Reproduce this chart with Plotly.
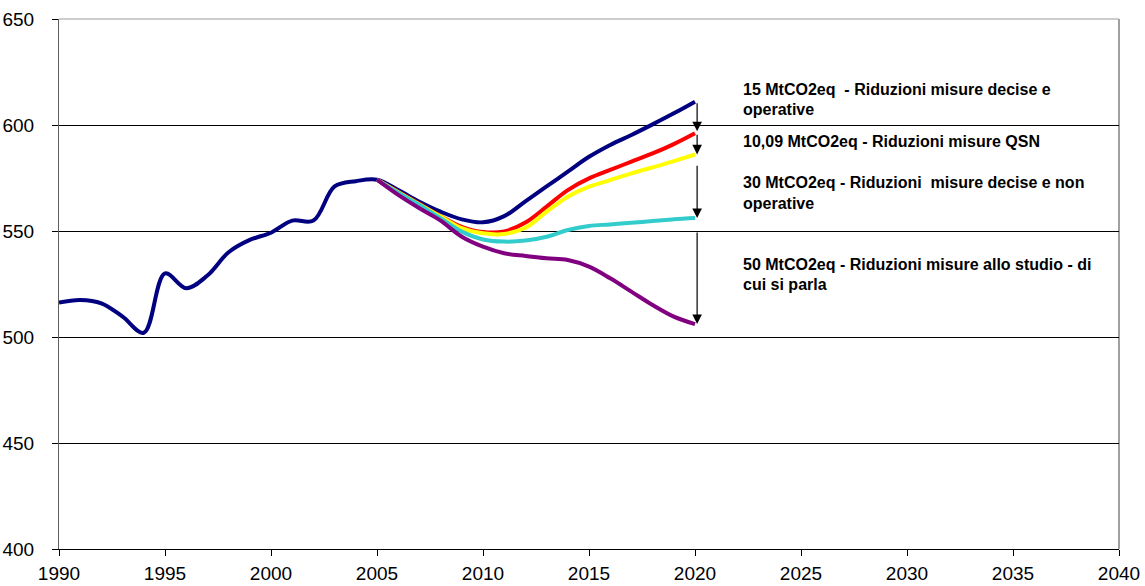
import plotly.graph_objects as go

# Historical emissions and reference projection (MtCO2eq)
years_main = list(range(1990, 2021))
reference = [516.3, 517.5, 515.9, 509.6, 502.0, 530.0, 523.0, 529.0, 540.0, 545.8,
             549.2, 554.9, 554.9, 571.0, 573.5, 574.2, 569.3, 563.8, 559.1, 555.5,
             554.1, 557.0, 564.0, 571.0, 578.0, 585.0, 590.6, 595.3, 600.3, 605.5,
             611.0]

# Reduction scenarios 2005-2020
years_scen = list(range(2005, 2021))
scen_red = [574.2, 568.5, 562.8, 557.0, 552.0, 549.5, 549.8, 554.0, 561.5, 569.3,
            574.8, 578.8, 582.7, 586.6, 591.0, 596.1]
scen_yellow = [574.2, 568.3, 562.5, 556.8, 551.3, 548.9, 548.6, 551.5, 559.1, 566.2,
               570.9, 574.0, 577.2, 580.0, 583.0, 586.1]
scen_cyan = [574.2, 568.0, 562.3, 556.0, 549.7, 546.0, 545.0, 545.5, 547.3, 550.5,
             552.4, 553.1, 553.9, 554.7, 555.5, 556.1]
scen_purple = [574.2, 567.0, 560.7, 554.9, 547.3, 542.6, 539.5, 538.2, 537.1, 536.3,
               533.2, 527.7, 521.4, 515.1, 509.6, 506.1]

# Reduction arrows at 2020: start / end values
arrow_year = 2020.1
arrow_start = [611.0, 596.1, 581.5, 550.0]
arrow_end = [597.0, 586.1, 556.1, 506.1]

# Side labels: (text, y value)
label_x = 2022.17
label_lines = [
    ("15 MtCO2eq \u00a0- Riduzioni misure decise e", 616.9),
    ("operative", 607.2),
    ("10,09 MtCO2eq - Riduzioni misure QSN", 592.1),
    ("30 MtCO2eq - Riduzioni \u00a0misure decise e non", 573.1),
    ("operative", 563.2),
    ("50 MtCO2eq - Riduzioni misure allo studio - di", 534.2),
    ("cui si parla", 524.8),
]

x_ticks = list(range(1990, 2041, 5))
y_ticks = list(range(400, 651, 50))

fig = go.Figure()

line_w = 4
series = [
    (years_main, reference, "#000080"),
    (years_scen, scen_red, "#FF0000"),
    (years_scen, scen_yellow, "#FFFF00"),
    (years_scen, scen_cyan, "#33CCCC"),
    (years_scen, scen_purple, "#800080"),
]
for xs, ys, col in series:
    fig.add_trace(go.Scatter(
        x=xs, y=ys, mode="lines",
        line=dict(color=col, width=line_w, shape="spline", smoothing=1.0),
        hoverinfo="skip", showlegend=False,
    ))

for y0, y1 in zip(arrow_start, arrow_end):
    fig.add_annotation(
        x=arrow_year, y=y1, ax=arrow_year, ay=y0,
        xref="x", yref="y", axref="x", ayref="y",
        showarrow=True, arrowhead=2, arrowsize=1.6, arrowwidth=1.2,
        arrowcolor="#000000", standoff=0, text="",
    )

for txt, yv in label_lines:
    fig.add_annotation(
        x=label_x, y=yv, xref="x", yref="y", text=txt, showarrow=False,
        xanchor="left", yanchor="middle",
        font=dict(family="Liberation Sans, Arial, sans-serif", size=16,
                  color="#000000", weight="bold"),
    )

# Grey frame on top and right of the plot area
fig.add_shape(type="line", xref="paper", yref="paper", x0=0, x1=1, y0=1, y1=1,
              line=dict(color="#9a9a9a", width=1), layer="below")
fig.add_shape(type="line", xref="paper", yref="paper", x0=1, x1=1, y0=0, y1=1,
              line=dict(color="#a0a0a0", width=2), layer="below")

tick_font = dict(family="Liberation Sans, Arial, sans-serif", size=19, color="#000000")

fig.update_layout(
    width=1145, height=586,
    margin=dict(l=59, r=26, t=19, b=37),
    paper_bgcolor="#FFFFFF", plot_bgcolor="#FFFFFF",
    xaxis=dict(
        range=[1990, 2040], tickvals=x_ticks, ticktext=[str(v) for v in x_ticks],
        showgrid=False, zeroline=False, automargin=False,
        showline=True, linecolor="#000000", linewidth=1,
        ticks="outside", ticklen=6, tickcolor="#000000", tickwidth=1,
        tickfont=tick_font, ticklabelstandoff=1,
    ),
    yaxis=dict(
        range=[400, 650], tickvals=y_ticks, ticktext=[str(v) for v in y_ticks],
        showgrid=True, gridcolor="#000000", gridwidth=1, zeroline=False,
        automargin=False,
        showline=True, linecolor="#606060", linewidth=1,
        ticks="outside", ticklen=6, tickcolor="#000000", tickwidth=1,
        tickfont=tick_font, ticklabelstandoff=14,
    ),
)

fig.write_html("out.html")
